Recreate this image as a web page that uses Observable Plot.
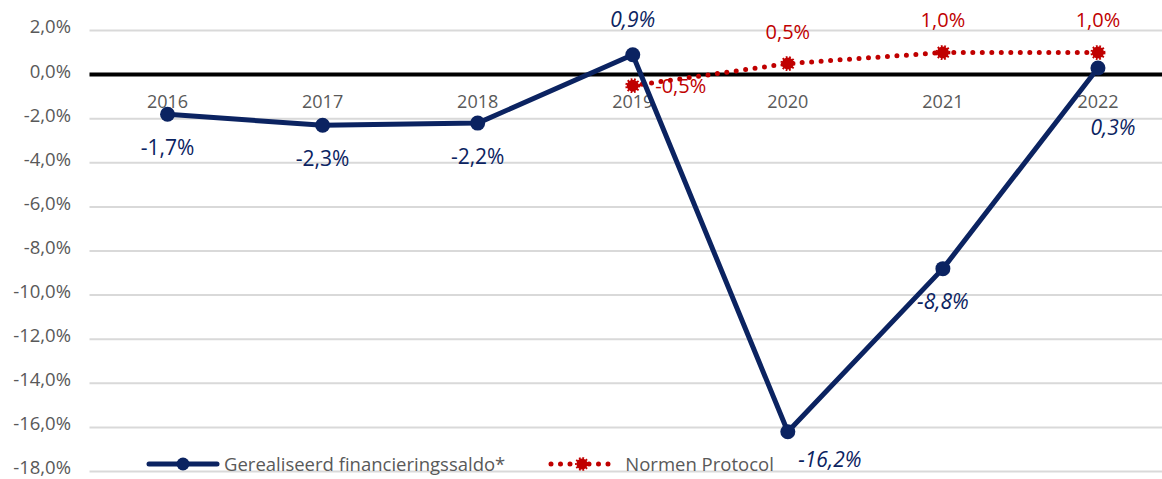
<!DOCTYPE html>
<html>
<head>
<meta charset="utf-8">
<script src="https://cdn.jsdelivr.net/npm/d3@7"></script>
<script src="https://cdn.jsdelivr.net/npm/@observablehq/plot@0.6"></script>
<style>
  html, body { margin: 0; padding: 0; background: #fff; overflow: hidden; width: 1162px; height: 479px; }
  #wrap { position: relative; width: 1162px; height: 479px; overflow: hidden; font-family: "Open Sans", sans-serif; }
  #wrap > svg { max-width: none !important; width: 1175px !important; height: 479px !important; }
  #legend { position: absolute; top: 451px; left: 146px; display: flex; align-items: center; font-size: 18.5px; color: #595959; }
  #legend .item { display: flex; align-items: center; }
  #legend svg { display: block; }
</style>
</head>
<body>
<div id="wrap"></div>
<script>
// ---- data ----
const years = [2016, 2017, 2018, 2019, 2020, 2021, 2022];
const realised = [-1.8, -2.3, -2.2, 0.9, -16.2, -8.8, 0.3];
const realisedLabels = [-1.7, -2.3, -2.2, 0.9, -16.2, -8.8, 0.3];
const normYears = [2019, 2020, 2021, 2022];
const norm = [-0.5, 0.5, 1.0, 1.0];
const yTicks = [-18, -16, -14, -12, -10, -8, -6, -4, -2, 0, 2];
const seriesNames = ["Gerealiseerd financieringssaldo*", "Normen Protocol"];

// ---- label layout (pixel offsets from each point) ----
const realisedLabelDx = [0, 0, 0, 0, 42, 0, 15];
const realisedLabelDy = [34, 34, 34, -34, 28, 34, 60];
const realisedItalic = [false, false, false, true, true, true, true];
const normLabelDx = [48, 0, 0, 0];
const normLabelDy = [1, -31, -32, -32];

const fmt = v => v.toFixed(1).replace(".", ",") + "%";
const blue = "#0b2361";
const red = "#c00000";
const font = "'Open Sans', sans-serif";

const realData = years.map((y, i) => ({year: y, v: realised[i], lab: realisedLabels[i], dx: realisedLabelDx[i], dy: realisedLabelDy[i], it: realisedItalic[i]}));
const normData = normYears.map((y, i) => ({year: y, v: norm[i], lab: norm[i], dx: normLabelDx[i], dy: normLabelDy[i]}));

const labelMark = (data, opts) => data.map(d => Plot.text([d], {x: "year", y: "v", text: d => fmt(d.lab), dx: d.dx, dy: d.dy, ...opts}));

const chart = Plot.plot({
  width: 1175,
  height: 479,
  marginLeft: 89.5,
  marginRight: 0,
  marginTop: 30,
  marginBottom: 8,
  style: {fontFamily: font, background: "transparent", overflow: "visible"},
  x: {type: "linear", domain: [2015.5, 2022.5], axis: null},
  y: {domain: [-18, 2], axis: null},
  marks: [
    Plot.gridY(yTicks, {stroke: "#d9d9d9", strokeOpacity: 1, strokeWidth: 2}),
    Plot.axisY(yTicks, {label: null, tickSize: 0, tickPadding: 19, tickFormat: fmt, fontSize: 18.5, dy: -3, fill: "#595959", stroke: null}),
    Plot.ruleY([0], {stroke: "#000", strokeWidth: 4}),
    Plot.text(years, {x: d => d, y: () => 0, text: d => String(d), dy: 28, fontSize: 18, fill: "#595959"}),
    Plot.line(normData, {x: "year", y: "v", stroke: red, strokeWidth: 5, strokeDasharray: "0 9.5", strokeLinecap: "round"}),
    Plot.dot(normData, {x: "year", y: "v", r: 6, fill: red, stroke: red, strokeWidth: 3, strokeDasharray: "1.6 1.6"}),
    Plot.line(realData, {x: "year", y: "v", stroke: blue, strokeWidth: 5, strokeLinejoin: "round"}),
    Plot.dot(realData, {x: "year", y: "v", r: 7.5, fill: blue, stroke: null}),
    ...labelMark(realData.filter(d => !d.it), {fill: blue, fontSize: 21}),
    ...labelMark(realData.filter(d => d.it), {fill: blue, fontSize: 21, fontStyle: "italic"}),
    ...labelMark(normData, {fill: red, fontSize: 20})
  ]
});
chart.style.maxWidth = "none";

const wrap = document.getElementById("wrap");
wrap.appendChild(chart);

// legend (HTML, inside plot area)
const legend = document.createElement("div");
legend.id = "legend";
legend.innerHTML = `
  <div class="item">
    <svg width="74" height="20"><line x1="3" y1="10" x2="71" y2="10" stroke="${blue}" stroke-width="5" stroke-linecap="round"/><circle cx="37" cy="10" r="6.5" fill="${blue}"/></svg>
    <span style="margin-left:4px">${seriesNames[0]}</span>
  </div>
  <div class="item" style="margin-left:42px">
    <svg width="72" height="20"><line x1="4" y1="10" x2="70" y2="10" stroke="${red}" stroke-width="5" stroke-dasharray="0 9.5" stroke-linecap="round"/><circle cx="35" cy="10" r="5.5" fill="${red}" stroke="${red}" stroke-width="3" stroke-dasharray="1.6 1.6"/></svg>
    <span style="margin-left:6px">${seriesNames[1]}</span>
  </div>`;
wrap.appendChild(legend);
</script>
</body>
</html>
